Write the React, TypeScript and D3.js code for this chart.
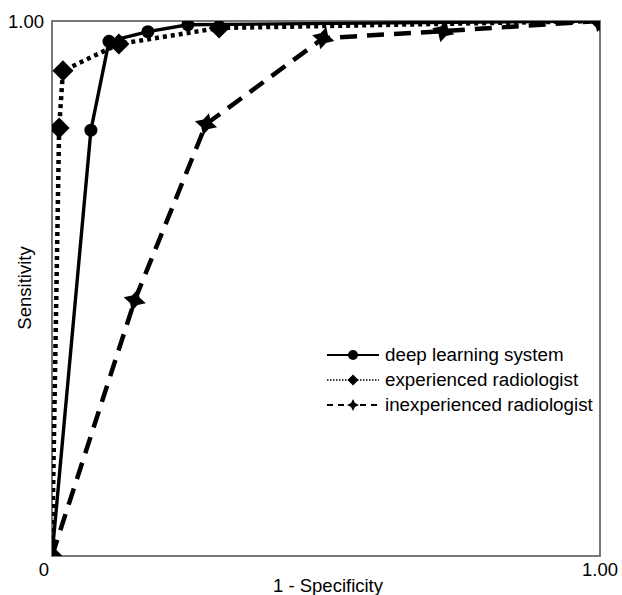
import React, { useEffect, useRef } from 'react';
import * as d3 from 'd3';

// ROC points (1 - specificity, sensitivity)
const deepFpr = [0, 0.071, 0.104, 0.175, 0.248, 1];
const deepTpr = [0, 0.796, 0.962, 0.98, 0.993, 1];
const expFpr = [0, 0.013, 0.02, 0.122, 0.305, 1];
const expTpr = [0, 0.8, 0.907, 0.957, 0.987, 1];
const inexpFpr = [0, 0.151, 0.281, 0.495, 0.714, 1];
const inexpTpr = [0, 0.478, 0.807, 0.968, 0.981, 1];

const seriesNames = ['deep learning system', 'experienced radiologist', 'inexperienced radiologist'];
const xTickLabels = ['0', '1.00'];
const yTickLabels = ['1.00'];

const W = 622;
const H = 595;
const M = { left: 52, right: 22, top: 21, bottom: 39 };
const FONT = '"Liberation Sans", Arial, Helvetica, sans-serif';

function star4(r: number, ri: number) {
  const pts: [number, number][] = [];
  for (let i = 0; i < 8; i++) {
    const a = (Math.PI / 4) * i - Math.PI / 2;
    const rr = i % 2 === 0 ? r : ri;
    pts.push([Math.cos(a) * rr, Math.sin(a) * rr]);
  }
  return 'M' + pts.map((p) => p.join(',')).join('L') + 'Z';
}

function diamond(r: number) {
  return `M0,${-r}L${r},0L0,${r}L${-r},0Z`;
}

function App() {
  const svgRef = useRef<SVGSVGElement>(null);

  useEffect(() => {
    const svg = d3.select(svgRef.current);
    svg.selectAll('*').remove();

    const x = d3.scaleLinear().domain([0, 1]).range([M.left, W - M.right]);
    const y = d3.scaleLinear().domain([0, 1]).range([H - M.bottom, M.top]);

    svg.append('defs')
      .append('clipPath')
      .attr('id', 'plot-clip')
      .append('rect')
      .attr('x', x(0))
      .attr('y', y(1))
      .attr('width', x(1) - x(0))
      .attr('height', y(0) - y(1));

    // frame
    svg.append('rect')
      .attr('x', x(0))
      .attr('y', y(1))
      .attr('width', x(1) - x(0))
      .attr('height', y(0) - y(1))
      .attr('fill', 'none')
      .attr('stroke', '#6a6a6a')
      .attr('stroke-width', 1.8);

    const series = [
      { fpr: deepFpr, tpr: deepTpr, dash: null, width: 3.4, marker: 'circle' },
      { fpr: expFpr, tpr: expTpr, dash: '4,4', width: 4.5, marker: 'diamond' },
      { fpr: inexpFpr, tpr: inexpTpr, dash: '17,10', width: 4.5, marker: 'star' },
    ];

    const line = d3.line<[number, number]>()
      .x((d) => x(d[0]))
      .y((d) => y(d[1]));

    const plot = svg.append('g').attr('clip-path', 'url(#plot-clip)');

    series.forEach((s) => {
      const pts = s.fpr.map((f, i) => [f, s.tpr[i]] as [number, number]);
      plot.append('path')
        .datum(pts)
        .attr('d', line)
        .attr('fill', 'none')
        .attr('stroke', '#000')
        .attr('stroke-width', s.width)
        .attr('stroke-dasharray', s.dash);
    });

    series.forEach((s) => {
      const pts = s.fpr.map((f, i) => [f, s.tpr[i]] as [number, number]);
      const g = plot.append('g');
      if (s.marker === 'circle') {
        g.selectAll('circle').data(pts).join('circle')
          .attr('cx', (d) => x(d[0]))
          .attr('cy', (d) => y(d[1]))
          .attr('r', 6.5)
          .attr('fill', '#000');
      } else {
        const shape = s.marker === 'diamond' ? diamond(10.5) : star4(11.5, 5.5);
        g.selectAll('path').data(pts).join('path')
          .attr('d', shape)
          .attr('transform', (d) => `translate(${x(d[0])},${y(d[1])}) rotate(${s.marker === 'star' ? 15 : 0})`)
          .attr('fill', '#000');
      }
    });

    // tick labels
    const xTicks = [0, 1];
    svg.selectAll('text.xt').data(xTicks).join('text')
      .attr('class', 'xt')
      .attr('x', (d, i) => (i === 0 ? x(d) - 8 : x(d)))
      .attr('y', 576)
      .attr('text-anchor', 'middle')
      .attr('font-family', FONT)
      .attr('font-size', 18.5)
      .text((d, i) => xTickLabels[i]);

    svg.selectAll('text.yt').data([1]).join('text')
      .attr('class', 'yt')
      .attr('x', 44)
      .attr('y', y(1) + 7)
      .attr('text-anchor', 'end')
      .attr('font-family', FONT)
      .attr('font-size', 18.5)
      .text((d, i) => yTickLabels[i]);

    svg.append('text')
      .attr('x', 328)
      .attr('y', 592)
      .attr('text-anchor', 'middle')
      .attr('font-family', FONT)
      .attr('font-size', 18.5)
      .text('1 - Specificity');

    svg.append('text')
      .attr('transform', `translate(31,288) rotate(-90)`)
      .attr('text-anchor', 'middle')
      .attr('font-family', FONT)
      .attr('font-size', 18.5)
      .text('Sensitivity');

    // legend
    const legendStyles = [
      { dash: null, width: 2, marker: 'circle' },
      { dash: '1.5,1.5', width: 1.5, marker: 'diamond' },
      { dash: '6,5', width: 2, marker: 'star' },
    ];
    const legend = svg.append('g');
    seriesNames.forEach((name, i) => {
      const ly = 355 + i * 25;
      const st = legendStyles[i];
      legend.append('line')
        .attr('x1', 327)
        .attr('x2', 379)
        .attr('y1', ly)
        .attr('y2', ly)
        .attr('stroke', '#000')
        .attr('stroke-width', st.width)
        .attr('stroke-dasharray', st.dash);
      if (st.marker === 'circle') {
        legend.append('circle').attr('cx', 353).attr('cy', ly).attr('r', 5).attr('fill', '#000');
      } else {
        legend.append('path')
          .attr('d', st.marker === 'diamond' ? diamond(5.5) : star4(6, 2.8))
          .attr('transform', `translate(353,${ly})`)
          .attr('fill', '#000');
      }
      legend.append('text')
        .attr('x', 385)
        .attr('y', ly + 6)
        .attr('font-family', FONT)
        .attr('font-size', 18.8)
        .text(name);
    });
  }, []);

  return (
    <svg
      ref={svgRef}
      width={W}
      height={H}
      style={{ position: 'absolute', left: 0, top: 0, background: '#fff' }}
    ></svg>
  );
}

export default App;
